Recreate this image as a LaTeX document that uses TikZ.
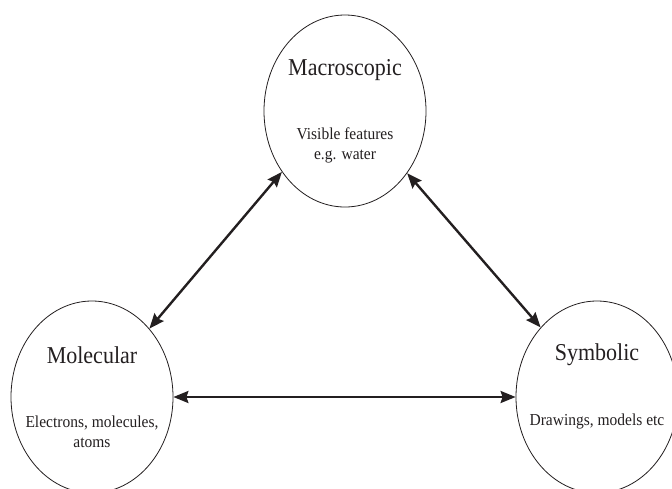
\documentclass[tikz,border=0pt]{standalone}
\usepackage{fontspec}
\setmainfont{Liberation Serif}
\usetikzlibrary{arrows.meta,shapes.geometric}
\definecolor{ink}{RGB}{35,31,32}
\tikzset{
  levelbox/.style={draw=ink, line width=0.8pt, ellipse, inner sep=0pt,
    minimum width=162pt, minimum height=192pt},
  leveltitle/.style={text=ink, font=\fontsize{22}{26}\selectfont, inner sep=0pt,
    yscale=1.1, transform shape},
  levelnote/.style={text=ink, font=\fontsize{15.5}{18.5}\selectfont, align=center,
    inner sep=0pt, yscale=1.08, transform shape},
  twoway/.style={draw=ink, line width=2.4pt,
    {Stealth[length=15pt,width=12pt,inset=2pt]}-{Stealth[length=15pt,width=12pt,inset=2pt]}}
}
\begin{document}
\begin{tikzpicture}[x=1pt,y=-1pt]
  \clip (0,0) rectangle (672,488);
  % the three levels of representation
  \node[levelbox] (mac) at (345,111) {};
  \node[levelbox] (mol) at (92,397) {};
  \node[levelbox] (sym) at (597,397) {};
  % labels
  \node[leveltitle] (macT) at (345,70) {Macroscopic};
  \node[levelnote]  (macN) at (345,145) {Visible features\\e.g. water};
  \node[leveltitle] (molT) at (92,355) {Molecular};
  \node[levelnote]  (molN) at (92,432) {Electrons, molecules,\\atoms};
  \node[leveltitle] (symT) at (597,355) {Symbolic};
  \node[levelnote]  (symN) at (597,421) {Drawings, models etc};
  % two-way links
  \draw[twoway] (mac.224.5) -- (mol.50.9);
  \draw[twoway] (mac.315.9) -- (sym.129.6);
  \draw[twoway] (mol.0) -- (sym.180);
\end{tikzpicture}
\end{document}
